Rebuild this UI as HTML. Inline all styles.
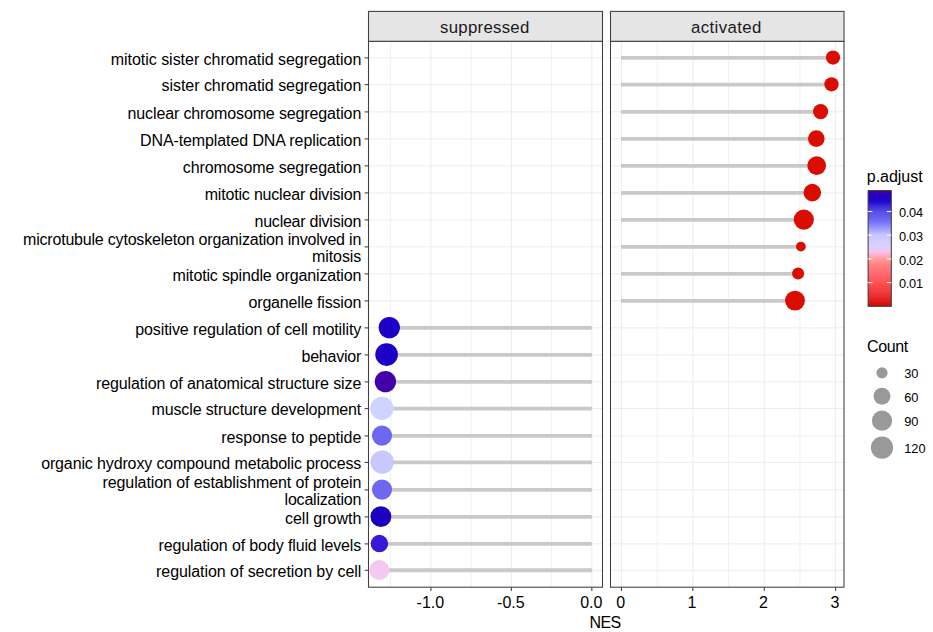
<!DOCTYPE html>
<html><head><meta charset="utf-8"><title>GSEA dotplot</title>
<style>html,body{margin:0;padding:0;background:#fff}svg{display:block}text{font-family:"Liberation Sans",sans-serif}</style>
</head><body>
<svg width="933" height="632" viewBox="0 0 933 632">
<rect x="0" y="0" width="933" height="632" fill="#ffffff"/>
<defs><linearGradient id="g" x1="0" y1="0" x2="0" y2="1">
<stop offset="0.0000" stop-color="#4400a8"/>
<stop offset="0.0294" stop-color="#3000b8"/>
<stop offset="0.0640" stop-color="#2000c8"/>
<stop offset="0.0985" stop-color="#2408cc"/>
<stop offset="0.1331" stop-color="#3a2ad8"/>
<stop offset="0.1806" stop-color="#584ce6"/>
<stop offset="0.2541" stop-color="#6c68f4"/>
<stop offset="0.3232" stop-color="#9a98fa"/>
<stop offset="0.3838" stop-color="#c6c6fe"/>
<stop offset="0.4529" stop-color="#d4d0ff"/>
<stop offset="0.4918" stop-color="#dccfff"/>
<stop offset="0.5220" stop-color="#f4c4f4"/>
<stop offset="0.5523" stop-color="#ffb4d4"/>
<stop offset="0.5895" stop-color="#ff9c9c"/>
<stop offset="0.6430" stop-color="#ff8080"/>
<stop offset="0.7295" stop-color="#ff6670"/>
<stop offset="0.7952" stop-color="#ff5050"/>
<stop offset="0.8764" stop-color="#f03c3c"/>
<stop offset="0.9455" stop-color="#e02020"/>
<stop offset="1.0000" stop-color="#cc0a00"/>
</linearGradient></defs>
<rect x="368.5" y="11.4" width="234.0" height="30.0" fill="#e5e5e5" stroke="#404040" stroke-width="1.07"/>
<text x="440.0" y="33.1" font-size="16.8" textLength="89.3" lengthAdjust="spacing" fill="#1a1a1a">suppressed</text>
<rect x="368.5" y="41.4" width="234.0" height="545.8000000000001" fill="#ffffff"/>
<line x1="390.64" x2="390.64" y1="41.4" y2="587.2" stroke="#ececec" stroke-width="0.8"/>
<line x1="471.12" x2="471.12" y1="41.4" y2="587.2" stroke="#ececec" stroke-width="0.8"/>
<line x1="551.61" x2="551.61" y1="41.4" y2="587.2" stroke="#ececec" stroke-width="0.8"/>
<line x1="430.88" x2="430.88" y1="41.4" y2="587.2" stroke="#ececec" stroke-width="1.0"/>
<line x1="511.37" x2="511.37" y1="41.4" y2="587.2" stroke="#ececec" stroke-width="1.0"/>
<line x1="591.85" x2="591.85" y1="41.4" y2="587.2" stroke="#ececec" stroke-width="1.0"/>
<line x1="368.5" x2="602.5" y1="57.90" y2="57.90" stroke="#ececec" stroke-width="1.0"/>
<line x1="368.5" x2="602.5" y1="84.60" y2="84.60" stroke="#ececec" stroke-width="1.0"/>
<line x1="368.5" x2="602.5" y1="111.90" y2="111.90" stroke="#ececec" stroke-width="1.0"/>
<line x1="368.5" x2="602.5" y1="138.90" y2="138.90" stroke="#ececec" stroke-width="1.0"/>
<line x1="368.5" x2="602.5" y1="165.90" y2="165.90" stroke="#ececec" stroke-width="1.0"/>
<line x1="368.5" x2="602.5" y1="192.90" y2="192.90" stroke="#ececec" stroke-width="1.0"/>
<line x1="368.5" x2="602.5" y1="219.90" y2="219.90" stroke="#ececec" stroke-width="1.0"/>
<line x1="368.5" x2="602.5" y1="246.90" y2="246.90" stroke="#ececec" stroke-width="1.0"/>
<line x1="368.5" x2="602.5" y1="273.90" y2="273.90" stroke="#ececec" stroke-width="1.0"/>
<line x1="368.5" x2="602.5" y1="300.90" y2="300.90" stroke="#ececec" stroke-width="1.0"/>
<line x1="368.5" x2="602.5" y1="327.90" y2="327.90" stroke="#ececec" stroke-width="1.0"/>
<line x1="368.5" x2="602.5" y1="354.90" y2="354.90" stroke="#ececec" stroke-width="1.0"/>
<line x1="368.5" x2="602.5" y1="381.90" y2="381.90" stroke="#ececec" stroke-width="1.0"/>
<line x1="368.5" x2="602.5" y1="408.60" y2="408.60" stroke="#ececec" stroke-width="1.0"/>
<line x1="368.5" x2="602.5" y1="435.90" y2="435.90" stroke="#ececec" stroke-width="1.0"/>
<line x1="368.5" x2="602.5" y1="462.40" y2="462.40" stroke="#ececec" stroke-width="1.0"/>
<line x1="368.5" x2="602.5" y1="489.90" y2="489.90" stroke="#ececec" stroke-width="1.0"/>
<line x1="368.5" x2="602.5" y1="516.90" y2="516.90" stroke="#ececec" stroke-width="1.0"/>
<line x1="368.5" x2="602.5" y1="543.90" y2="543.90" stroke="#ececec" stroke-width="1.0"/>
<line x1="368.5" x2="602.5" y1="570.30" y2="570.30" stroke="#ececec" stroke-width="1.0"/>
<rect x="610.5" y="11.4" width="233.5" height="30.0" fill="#e5e5e5" stroke="#404040" stroke-width="1.07"/>
<text x="691.1" y="33.1" font-size="16.8" textLength="70.2" lengthAdjust="spacing" fill="#1a1a1a">activated</text>
<rect x="610.5" y="41.4" width="233.5" height="545.8000000000001" fill="#ffffff"/>
<line x1="657.15" x2="657.15" y1="41.4" y2="587.2" stroke="#ececec" stroke-width="0.8"/>
<line x1="728.55" x2="728.55" y1="41.4" y2="587.2" stroke="#ececec" stroke-width="0.8"/>
<line x1="799.95" x2="799.95" y1="41.4" y2="587.2" stroke="#ececec" stroke-width="0.8"/>
<line x1="621.45" x2="621.45" y1="41.4" y2="587.2" stroke="#ececec" stroke-width="1.0"/>
<line x1="692.85" x2="692.85" y1="41.4" y2="587.2" stroke="#ececec" stroke-width="1.0"/>
<line x1="764.25" x2="764.25" y1="41.4" y2="587.2" stroke="#ececec" stroke-width="1.0"/>
<line x1="835.65" x2="835.65" y1="41.4" y2="587.2" stroke="#ececec" stroke-width="1.0"/>
<line x1="610.5" x2="844.0" y1="57.90" y2="57.90" stroke="#ececec" stroke-width="1.0"/>
<line x1="610.5" x2="844.0" y1="84.60" y2="84.60" stroke="#ececec" stroke-width="1.0"/>
<line x1="610.5" x2="844.0" y1="111.90" y2="111.90" stroke="#ececec" stroke-width="1.0"/>
<line x1="610.5" x2="844.0" y1="138.90" y2="138.90" stroke="#ececec" stroke-width="1.0"/>
<line x1="610.5" x2="844.0" y1="165.90" y2="165.90" stroke="#ececec" stroke-width="1.0"/>
<line x1="610.5" x2="844.0" y1="192.90" y2="192.90" stroke="#ececec" stroke-width="1.0"/>
<line x1="610.5" x2="844.0" y1="219.90" y2="219.90" stroke="#ececec" stroke-width="1.0"/>
<line x1="610.5" x2="844.0" y1="246.90" y2="246.90" stroke="#ececec" stroke-width="1.0"/>
<line x1="610.5" x2="844.0" y1="273.90" y2="273.90" stroke="#ececec" stroke-width="1.0"/>
<line x1="610.5" x2="844.0" y1="300.90" y2="300.90" stroke="#ececec" stroke-width="1.0"/>
<line x1="610.5" x2="844.0" y1="327.90" y2="327.90" stroke="#ececec" stroke-width="1.0"/>
<line x1="610.5" x2="844.0" y1="354.90" y2="354.90" stroke="#ececec" stroke-width="1.0"/>
<line x1="610.5" x2="844.0" y1="381.90" y2="381.90" stroke="#ececec" stroke-width="1.0"/>
<line x1="610.5" x2="844.0" y1="408.60" y2="408.60" stroke="#ececec" stroke-width="1.0"/>
<line x1="610.5" x2="844.0" y1="435.90" y2="435.90" stroke="#ececec" stroke-width="1.0"/>
<line x1="610.5" x2="844.0" y1="462.40" y2="462.40" stroke="#ececec" stroke-width="1.0"/>
<line x1="610.5" x2="844.0" y1="489.90" y2="489.90" stroke="#ececec" stroke-width="1.0"/>
<line x1="610.5" x2="844.0" y1="516.90" y2="516.90" stroke="#ececec" stroke-width="1.0"/>
<line x1="610.5" x2="844.0" y1="543.90" y2="543.90" stroke="#ececec" stroke-width="1.0"/>
<line x1="610.5" x2="844.0" y1="570.30" y2="570.30" stroke="#ececec" stroke-width="1.0"/>
<line x1="621.00" x2="833.00" y1="57.90" y2="57.90" stroke="#c9c9c9" stroke-width="3.9"/>
<line x1="621.00" x2="831.50" y1="84.60" y2="84.60" stroke="#c9c9c9" stroke-width="3.9"/>
<line x1="621.00" x2="820.60" y1="111.90" y2="111.90" stroke="#c9c9c9" stroke-width="3.9"/>
<line x1="621.00" x2="816.30" y1="138.90" y2="138.90" stroke="#c9c9c9" stroke-width="3.9"/>
<line x1="621.00" x2="816.70" y1="165.90" y2="165.90" stroke="#c9c9c9" stroke-width="3.9"/>
<line x1="621.00" x2="812.30" y1="192.90" y2="192.90" stroke="#c9c9c9" stroke-width="3.9"/>
<line x1="621.00" x2="803.80" y1="219.90" y2="219.90" stroke="#c9c9c9" stroke-width="3.9"/>
<line x1="621.00" x2="800.90" y1="246.90" y2="246.90" stroke="#c9c9c9" stroke-width="3.9"/>
<line x1="621.00" x2="798.10" y1="273.90" y2="273.90" stroke="#c9c9c9" stroke-width="3.9"/>
<line x1="621.00" x2="795.00" y1="300.90" y2="300.90" stroke="#c9c9c9" stroke-width="3.9"/>
<line x1="591.85" x2="389.30" y1="327.90" y2="327.90" stroke="#c9c9c9" stroke-width="3.9"/>
<line x1="591.85" x2="386.60" y1="354.90" y2="354.90" stroke="#c9c9c9" stroke-width="3.9"/>
<line x1="591.85" x2="385.40" y1="381.90" y2="381.90" stroke="#c9c9c9" stroke-width="3.9"/>
<line x1="591.85" x2="381.90" y1="408.60" y2="408.60" stroke="#c9c9c9" stroke-width="3.9"/>
<line x1="591.85" x2="382.00" y1="435.90" y2="435.90" stroke="#c9c9c9" stroke-width="3.9"/>
<line x1="591.85" x2="382.20" y1="462.40" y2="462.40" stroke="#c9c9c9" stroke-width="3.9"/>
<line x1="591.85" x2="382.00" y1="489.90" y2="489.90" stroke="#c9c9c9" stroke-width="3.9"/>
<line x1="591.85" x2="380.90" y1="516.90" y2="516.90" stroke="#c9c9c9" stroke-width="3.9"/>
<line x1="591.85" x2="379.40" y1="543.90" y2="543.90" stroke="#c9c9c9" stroke-width="3.9"/>
<line x1="591.85" x2="379.40" y1="570.30" y2="570.30" stroke="#c9c9c9" stroke-width="3.9"/>
<circle cx="833.00" cy="57.60" r="7.10" fill="#d90d00"/>
<circle cx="831.50" cy="84.30" r="7.15" fill="#d90d00"/>
<circle cx="820.60" cy="111.60" r="7.60" fill="#d90d00"/>
<circle cx="816.30" cy="138.60" r="8.35" fill="#d90d00"/>
<circle cx="816.70" cy="165.60" r="9.35" fill="#d90d00"/>
<circle cx="812.30" cy="192.60" r="8.80" fill="#d90d00"/>
<circle cx="803.80" cy="219.60" r="10.10" fill="#d90d00"/>
<circle cx="800.90" cy="246.60" r="4.90" fill="#d90d00"/>
<circle cx="798.10" cy="273.60" r="6.00" fill="#d90d00"/>
<circle cx="795.00" cy="300.60" r="9.95" fill="#d90d00"/>
<circle cx="389.30" cy="327.60" r="10.65" fill="#1c00c8"/>
<circle cx="386.60" cy="354.60" r="11.30" fill="#1c00c8"/>
<circle cx="385.40" cy="381.60" r="10.65" fill="#4400a8"/>
<circle cx="381.90" cy="408.30" r="11.65" fill="#ced4ff"/>
<circle cx="382.00" cy="435.60" r="10.10" fill="#6e68f0"/>
<circle cx="382.20" cy="462.10" r="11.70" fill="#c8c8ff"/>
<circle cx="382.00" cy="489.60" r="10.10" fill="#6e68f0"/>
<circle cx="380.90" cy="516.60" r="10.45" fill="#1c00c0"/>
<circle cx="379.40" cy="543.60" r="8.75" fill="#3818d4"/>
<circle cx="379.40" cy="570.00" r="10.05" fill="#f5c8f2"/>
<rect x="368.5" y="41.4" width="234.0" height="545.8000000000001" fill="none" stroke="#404040" stroke-width="1.07"/>
<rect x="610.5" y="41.4" width="233.5" height="545.8000000000001" fill="none" stroke="#404040" stroke-width="1.07"/>
<line x1="364.60" x2="368.50" y1="57.90" y2="57.90" stroke="#404040" stroke-width="1.07"/>
<text x="361.3" y="64.60" font-size="16" text-anchor="end" textLength="250.56" lengthAdjust="spacing" fill="#000">mitotic sister chromatid segregation</text>
<line x1="364.60" x2="368.50" y1="84.60" y2="84.60" stroke="#404040" stroke-width="1.07"/>
<text x="361.3" y="91.30" font-size="16" text-anchor="end" textLength="199.75" lengthAdjust="spacing" fill="#000">sister chromatid segregation</text>
<line x1="364.60" x2="368.50" y1="111.90" y2="111.90" stroke="#404040" stroke-width="1.07"/>
<text x="361.3" y="118.60" font-size="16" text-anchor="end" textLength="233.76" lengthAdjust="spacing" fill="#000">nuclear chromosome segregation</text>
<line x1="364.60" x2="368.50" y1="138.90" y2="138.90" stroke="#404040" stroke-width="1.07"/>
<text x="361.3" y="145.60" font-size="16" text-anchor="end" textLength="221.31" lengthAdjust="spacing" fill="#000">DNA-templated DNA replication</text>
<line x1="364.60" x2="368.50" y1="165.90" y2="165.90" stroke="#404040" stroke-width="1.07"/>
<text x="361.3" y="172.60" font-size="16" text-anchor="end" textLength="178.48" lengthAdjust="spacing" fill="#000">chromosome segregation</text>
<line x1="364.60" x2="368.50" y1="192.90" y2="192.90" stroke="#404040" stroke-width="1.07"/>
<text x="361.3" y="199.60" font-size="16" text-anchor="end" textLength="156.56" lengthAdjust="spacing" fill="#000">mitotic nuclear division</text>
<line x1="364.60" x2="368.50" y1="219.90" y2="219.90" stroke="#404040" stroke-width="1.07"/>
<text x="361.3" y="226.60" font-size="16" text-anchor="end" textLength="106.76" lengthAdjust="spacing" fill="#000">nuclear division</text>
<line x1="364.60" x2="368.50" y1="246.90" y2="246.90" stroke="#404040" stroke-width="1.07"/>
<text x="361.3" y="244.96" font-size="16" text-anchor="end" textLength="338.26" lengthAdjust="spacing" fill="#000">microtubule cytoskeleton organization involved in</text>
<text x="361.3" y="262.24" font-size="16" text-anchor="end" textLength="49.26" lengthAdjust="spacing" fill="#000">mitosis</text>
<line x1="364.60" x2="368.50" y1="273.90" y2="273.90" stroke="#404040" stroke-width="1.07"/>
<text x="361.3" y="280.60" font-size="16" text-anchor="end" textLength="188.76" lengthAdjust="spacing" fill="#000">mitotic spindle organization</text>
<line x1="364.60" x2="368.50" y1="300.90" y2="300.90" stroke="#404040" stroke-width="1.07"/>
<text x="361.3" y="307.60" font-size="16" text-anchor="end" textLength="112.77" lengthAdjust="spacing" fill="#000">organelle fission</text>
<line x1="364.60" x2="368.50" y1="327.90" y2="327.90" stroke="#404040" stroke-width="1.07"/>
<text x="361.3" y="334.60" font-size="16" text-anchor="end" textLength="226.13" lengthAdjust="spacing" fill="#000">positive regulation of cell motility</text>
<line x1="364.60" x2="368.50" y1="354.90" y2="354.90" stroke="#404040" stroke-width="1.07"/>
<text x="361.3" y="361.60" font-size="16" text-anchor="end" textLength="59.83" lengthAdjust="spacing" fill="#000">behavior</text>
<line x1="364.60" x2="368.50" y1="381.90" y2="381.90" stroke="#404040" stroke-width="1.07"/>
<text x="361.3" y="388.60" font-size="16" text-anchor="end" textLength="265.26" lengthAdjust="spacing" fill="#000">regulation of anatomical structure size</text>
<line x1="364.60" x2="368.50" y1="408.60" y2="408.60" stroke="#404040" stroke-width="1.07"/>
<text x="361.3" y="415.30" font-size="16" text-anchor="end" textLength="209.76" lengthAdjust="spacing" fill="#000">muscle structure development</text>
<line x1="364.60" x2="368.50" y1="435.90" y2="435.90" stroke="#404040" stroke-width="1.07"/>
<text x="361.3" y="442.60" font-size="16" text-anchor="end" textLength="140.16" lengthAdjust="spacing" fill="#000">response to peptide</text>
<line x1="364.60" x2="368.50" y1="462.40" y2="462.40" stroke="#404040" stroke-width="1.07"/>
<text x="361.3" y="469.10" font-size="16" text-anchor="end" textLength="320.17" lengthAdjust="spacing" fill="#000">organic hydroxy compound metabolic process</text>
<line x1="364.60" x2="368.50" y1="489.90" y2="489.90" stroke="#404040" stroke-width="1.07"/>
<text x="361.3" y="487.96" font-size="16" text-anchor="end" textLength="258.76" lengthAdjust="spacing" fill="#000">regulation of establishment of protein</text>
<text x="361.3" y="505.24" font-size="16" text-anchor="end" textLength="76.68" lengthAdjust="spacing" fill="#000">localization</text>
<line x1="364.60" x2="368.50" y1="516.90" y2="516.90" stroke="#404040" stroke-width="1.07"/>
<text x="361.3" y="523.60" font-size="16" text-anchor="end" textLength="76.28" lengthAdjust="spacing" fill="#000">cell growth</text>
<line x1="364.60" x2="368.50" y1="543.90" y2="543.90" stroke="#404040" stroke-width="1.07"/>
<text x="361.3" y="550.60" font-size="16" text-anchor="end" textLength="202.86" lengthAdjust="spacing" fill="#000">regulation of body fluid levels</text>
<line x1="364.60" x2="368.50" y1="570.30" y2="570.30" stroke="#404040" stroke-width="1.07"/>
<text x="361.3" y="577.00" font-size="16" text-anchor="end" textLength="205.26" lengthAdjust="spacing" fill="#000">regulation of secretion by cell</text>
<line x1="430.88" x2="430.88" y1="587.2" y2="591.10" stroke="#404040" stroke-width="1.07"/>
<text x="430.38" y="607.5" font-size="16" text-anchor="middle" fill="#000">-1.0</text>
<line x1="511.37" x2="511.37" y1="587.2" y2="591.10" stroke="#404040" stroke-width="1.07"/>
<text x="510.87" y="607.5" font-size="16" text-anchor="middle" fill="#000">-0.5</text>
<line x1="591.85" x2="591.85" y1="587.2" y2="591.10" stroke="#404040" stroke-width="1.07"/>
<text x="591.35" y="607.5" font-size="16" text-anchor="middle" fill="#000">0.0</text>
<line x1="621.45" x2="621.45" y1="587.2" y2="591.10" stroke="#404040" stroke-width="1.07"/>
<text x="620.65" y="607.5" font-size="16" text-anchor="middle" fill="#000">0</text>
<line x1="692.85" x2="692.85" y1="587.2" y2="591.10" stroke="#404040" stroke-width="1.07"/>
<text x="692.05" y="607.5" font-size="16" text-anchor="middle" fill="#000">1</text>
<line x1="764.25" x2="764.25" y1="587.2" y2="591.10" stroke="#404040" stroke-width="1.07"/>
<text x="763.45" y="607.5" font-size="16" text-anchor="middle" fill="#000">2</text>
<line x1="835.65" x2="835.65" y1="587.2" y2="591.10" stroke="#404040" stroke-width="1.07"/>
<text x="834.85" y="607.5" font-size="16" text-anchor="middle" fill="#000">3</text>
<text x="589.6" y="627.8" font-size="16" textLength="31.6" lengthAdjust="spacing" fill="#000">NES</text>
<text x="866.8" y="182.0" font-size="16" textLength="55.8" lengthAdjust="spacing" fill="#000">p.adjust</text>
<rect x="868.1" y="190.6" width="23.2" height="115.70" fill="url(#g)" stroke="#3a3a3a" stroke-width="1.0"/>
<line x1="867.8" x2="872.4" y1="211.5" y2="211.5" stroke="#ffffff" stroke-width="1.1" opacity="0.9"/>
<line x1="886.8" x2="891.4" y1="211.5" y2="211.5" stroke="#ffffff" stroke-width="1.1" opacity="0.9"/>
<text x="898.9" y="217.10" font-size="12.8" textLength="24.2" lengthAdjust="spacing" fill="#000">0.04</text>
<line x1="867.8" x2="872.4" y1="235.2" y2="235.2" stroke="#ffffff" stroke-width="1.1" opacity="0.9"/>
<line x1="886.8" x2="891.4" y1="235.2" y2="235.2" stroke="#ffffff" stroke-width="1.1" opacity="0.9"/>
<text x="898.9" y="240.80" font-size="12.8" textLength="24.2" lengthAdjust="spacing" fill="#000">0.03</text>
<line x1="867.8" x2="872.4" y1="258.9" y2="258.9" stroke="#ffffff" stroke-width="1.1" opacity="0.9"/>
<line x1="886.8" x2="891.4" y1="258.9" y2="258.9" stroke="#ffffff" stroke-width="1.1" opacity="0.9"/>
<text x="898.9" y="264.50" font-size="12.8" textLength="24.2" lengthAdjust="spacing" fill="#000">0.02</text>
<line x1="867.8" x2="872.4" y1="282.6" y2="282.6" stroke="#ffffff" stroke-width="1.1" opacity="0.9"/>
<line x1="886.8" x2="891.4" y1="282.6" y2="282.6" stroke="#ffffff" stroke-width="1.1" opacity="0.9"/>
<text x="898.9" y="288.20" font-size="12.8" textLength="24.2" lengthAdjust="spacing" fill="#000">0.01</text>
<text x="866.95" y="351.9" font-size="16" textLength="41.3" lengthAdjust="spacing" fill="#000">Count</text>
<circle cx="882.0" cy="372.9" r="5.55" fill="#999999"/>
<text x="904.2" y="378.30" font-size="12.8" fill="#000">30</text>
<circle cx="882.0" cy="396.2" r="8.45" fill="#999999"/>
<text x="904.2" y="401.60" font-size="12.8" fill="#000">60</text>
<circle cx="882.0" cy="420.7" r="10.10" fill="#999999"/>
<text x="904.2" y="426.10" font-size="12.8" fill="#000">90</text>
<circle cx="882.0" cy="447.6" r="11.10" fill="#999999"/>
<text x="904.2" y="453.00" font-size="12.8" fill="#000">120</text>
</svg></body></html>
